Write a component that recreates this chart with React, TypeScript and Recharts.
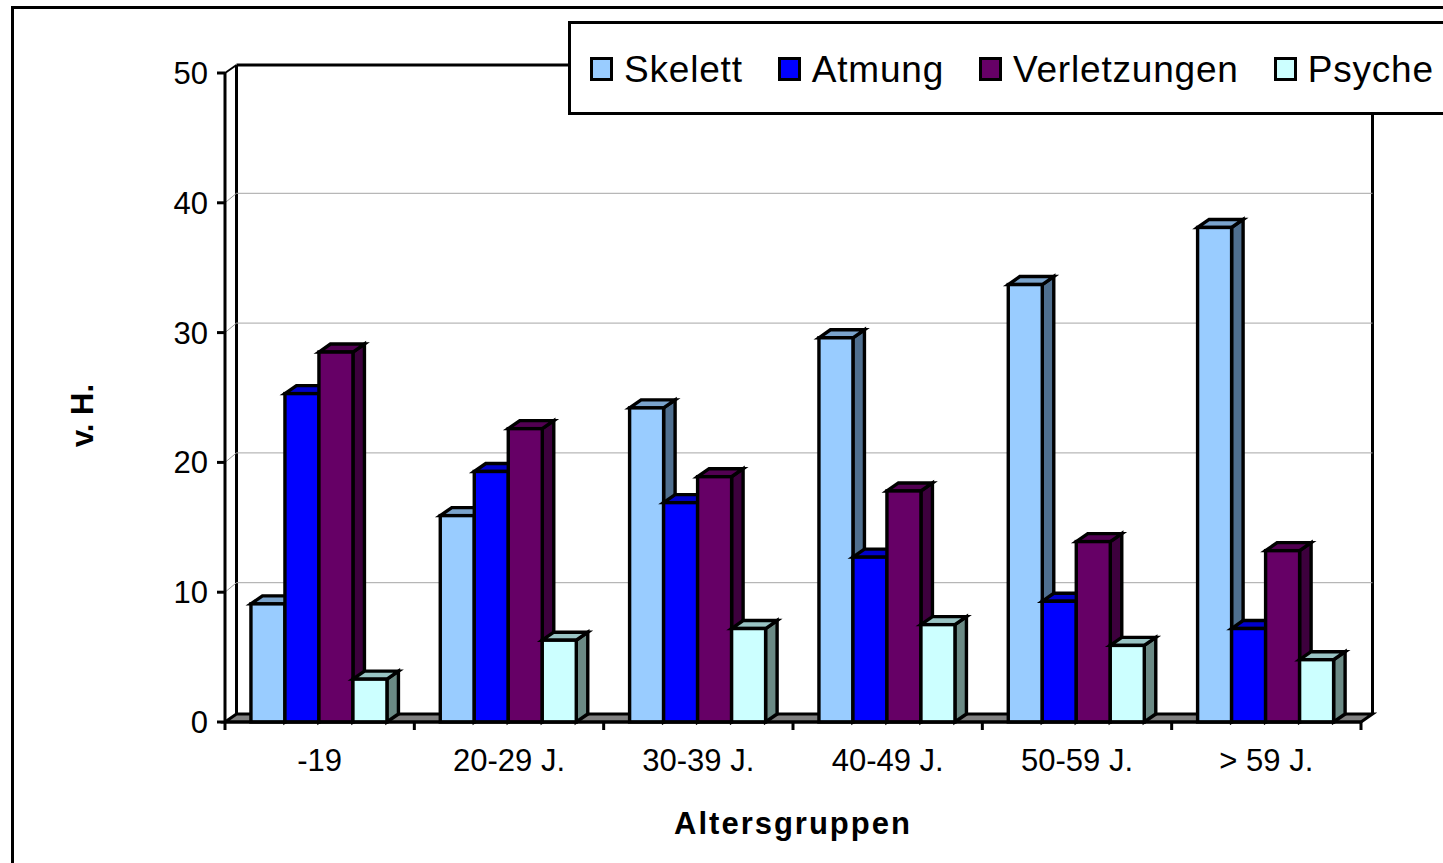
import React from 'react';
import { BarChart, Bar, XAxis, YAxis, CartesianGrid, Legend, Label } from 'recharts';

const categories = ['-19', '20-29 J.', '30-39 J.', '40-49 J.', '50-59 J.', '> 59 J.'];
const skelett = [9.1, 15.9, 24.2, 29.6, 33.7, 38.1];
const atmung = [25.3, 19.3, 16.9, 12.7, 9.3, 7.2];
const verletzungen = [28.5, 22.6, 18.9, 17.8, 13.9, 13.2];
const psyche = [3.3, 6.3, 7.2, 7.5, 5.9, 4.8];
const yTicks = [0, 10, 20, 30, 40, 50];

const data = categories.map((name, i) => ({
  name,
  Skelett: skelett[i],
  Atmung: atmung[i],
  Verletzungen: verletzungen[i],
  Psyche: psyche[i],
}));

const FONT = '"Liberation Sans", Arial, sans-serif';
const W = 1443;
const H = 863;
const LEFT = 225;
const RIGHT = 1361;
const TOP = 73;
const BOTTOM = 722;
const DX = 11.5;
const DY = -8;
const GRID_DY = -9.5;
const LINE = 3;
const BAR_LINE = 3.4;
const BAND = (RIGHT - LEFT) / categories.length;

const seriesStyle = [
  { key: 'Skelett', fill: '#99CCFF', top: '#7AA3CC', side: '#4F6F8F' },
  { key: 'Atmung', fill: '#0000FF', top: '#0000CC', side: '#000099' },
  { key: 'Verletzungen', fill: '#660066', top: '#520052', side: '#3D003D' },
  { key: 'Psyche', fill: '#CCFFFF', top: '#99C4C4', side: '#6B8A85' },
];

function Bar3D(props: any) {
  const { x, y, width, height, fill, top, side } = props;
  const common = { stroke: '#000', strokeWidth: BAR_LINE, strokeLinejoin: 'miter' as const };
  return (
    <g>
      <polygon
        points={`${x + width},${y} ${x + width + DX},${y + DY} ${x + width + DX},${y + height + DY} ${x + width},${y + height}`}
        fill={side}
        {...common}
      />
      <polygon
        points={`${x},${y} ${x + DX},${y + DY} ${x + width + DX},${y + DY} ${x + width},${y}`}
        fill={top}
        {...common}
      />
      <rect x={x} y={y} width={width} height={height} fill={fill} {...common} />
    </g>
  );
}

function WallLine(props: any) {
  const { x1, x2, y1, key } = props;
  const isTop = Math.abs(y1 - TOP) < 1;
  const isBottom = Math.abs(y1 - BOTTOM) < 1;
  if (isBottom) {
    return (
      <g key={key}>
        <polygon
          points={`${x1},${y1} ${x1 + DX},${y1 + DY} ${x2 + DX},${y1 + DY} ${x2},${y1}`}
          fill="#808080"
          stroke="#000"
          strokeWidth={LINE}
        />
        <line x1={x1 + DX} y1={TOP + DY} x2={x1 + DX} y2={BOTTOM + DY} stroke="#000" strokeWidth={LINE} />
        <line x1={x2 + DX} y1={TOP + DY} x2={x2 + DX} y2={BOTTOM + DY} stroke="#000" strokeWidth={LINE} />
      </g>
    );
  }
  if (isTop) {
    return (
      <g key={key}>
        <line x1={x1} y1={y1} x2={x1 + DX} y2={y1 + DY} stroke="#000" strokeWidth={2} />
        <line x1={x1 + DX} y1={y1 + DY} x2={x2 + DX} y2={y1 + DY} stroke="#000" strokeWidth={LINE} />
      </g>
    );
  }
  return (
    <g key={key}>
      <line x1={x1} y1={y1} x2={x1 + DX} y2={y1 + GRID_DY} stroke="#9a9a9a" strokeWidth={1} />
      <line x1={x1 + DX} y1={y1 + GRID_DY} x2={x2 + DX} y2={y1 + GRID_DY} stroke="#a6a6a6" strokeWidth={1} />
    </g>
  );
}

function CategoryTick(props: any) {
  const { x, payload, index } = props;
  const last = index === categories.length - 1;
  const left = x - BAND / 2;
  return (
    <g>
      <line x1={left} y1={BOTTOM} x2={left} y2={BOTTOM + 8} stroke="#000" strokeWidth={LINE} />
      {last && <line x1={left + BAND} y1={BOTTOM} x2={left + BAND} y2={BOTTOM + 8} stroke="#000" strokeWidth={LINE} />}
      <text x={x} y={BOTTOM + 49} textAnchor="middle" fontSize={31} fontFamily={FONT} fill="#000">
        {payload.value}
      </text>
    </g>
  );
}

function YTitle(props: any) {
  const vb = props.viewBox;
  const cy = vb.y + vb.height / 2 + 18;
  const bx = 93;
  return (
    <text
      x={bx}
      y={cy}
      transform={`rotate(-90 ${bx} ${cy})`}
      textAnchor="middle"
      fontFamily={FONT}
      fontWeight={700}
      fontSize={31}
      fill="#000"
    >
      {props.value}
    </text>
  );
}

function LegendBox(props: any) {
  const payload = props.payload || [];
  return (
    <div
      style={{
        boxSizing: 'border-box',
        width: W - 568,
        height: 94,
        background: '#fff',
        borderLeft: '3px solid #000',
        borderTop: '3px solid #000',
        borderBottom: '3px solid #000',
        display: 'flex',
        alignItems: 'center',
        paddingLeft: 19,
        paddingTop: 1,
        gap: 35,
        fontFamily: FONT,
        fontSize: 37,
        letterSpacing: 0.8,
        color: '#000',
        whiteSpace: 'nowrap',
      }}
    >
      {payload.map((p: any) => (
        <div key={p.value} style={{ display: 'flex', alignItems: 'center', gap: 11 }}>
          <span
            style={{
              boxSizing: 'border-box',
              display: 'inline-block',
              width: 23,
              height: 24,
              background: p.color,
              border: '3px solid #000',
            }}
          />
          <span style={{ position: 'relative', top: 1 }}>{p.value}</span>
        </div>
      ))}
    </div>
  );
}

export default function App() {
  return (
    <div style={{ position: 'absolute', left: 0, top: 0, width: W, height: H, overflow: 'hidden', background: '#fff' }}>
      <div
        style={{
          position: 'absolute',
          left: 11,
          top: 6,
          width: W,
          height: H,
          borderLeft: '3px solid #000',
          borderTop: '3px solid #000',
        }}
      />
      <BarChart
        width={W}
        height={H}
        data={data}
        margin={{ left: 25, top: TOP, right: W - RIGHT, bottom: H - BOTTOM - 130 }}
        barCategoryGap="13.7%"
        barGap={0}
        style={{ position: 'absolute', left: 0, top: 0 }}
      >
        <CartesianGrid vertical={false} horizontal={WallLine as any} />
        <XAxis
          dataKey="name"
          height={130}
          interval={0}
          tick={CategoryTick}
          tickLine={false}
          axisLine={{ stroke: '#000', strokeWidth: LINE }}
        >
          <Label
            value="Altersgruppen"
            position="insideBottom"
            offset={18}
            style={{ fontFamily: FONT, fontWeight: 700, fontSize: 31, fill: '#000', letterSpacing: 2 }}
          />
        </XAxis>
        <YAxis
          width={200}
          domain={[0, 50]}
          ticks={yTicks}
          interval={0}
          tickSize={8}
          tickMargin={9}
          tick={{ fontFamily: FONT, fontSize: 31, fill: '#000' }}
          tickLine={{ stroke: '#000', strokeWidth: LINE }}
          axisLine={{ stroke: '#000', strokeWidth: LINE }}
        >
          <Label value="v. H." content={YTitle as any} />
        </YAxis>
        <Legend
          align="center"
          verticalAlign="middle"
          itemSorter={null as any}
          content={LegendBox as any}
          wrapperStyle={{ position: 'absolute', left: 568, top: 21, width: W - 568 }}
        />
        {seriesStyle.map((s) => (
          <Bar
            key={s.key}
            dataKey={s.key}
            fill={s.fill}
            isAnimationActive={false}
            shape={(p: any) => <Bar3D {...p} top={s.top} side={s.side} />}
          />
        ))}
      </BarChart>
    </div>
  );
}
